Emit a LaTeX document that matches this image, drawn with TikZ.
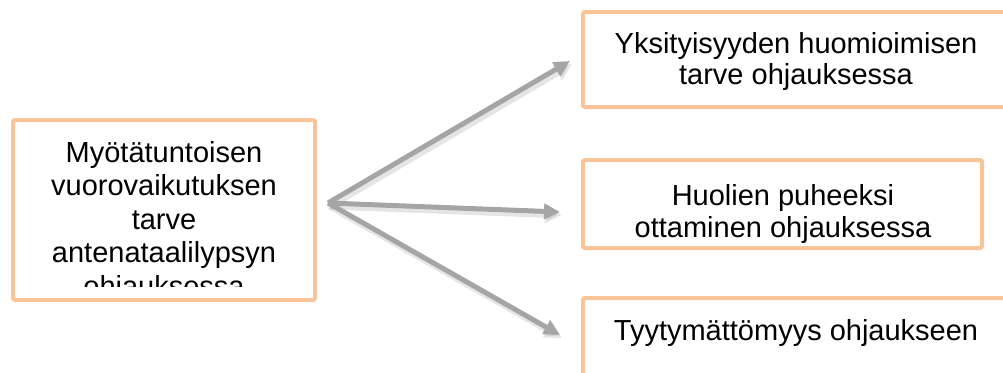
\documentclass[tikz,border=0pt]{standalone}
\usepackage{fontspec}
\setmainfont{Liberation Sans}
\usetikzlibrary{arrows.meta}
\definecolor{boxline}{RGB}{249,196,152}
\definecolor{arrowgray}{RGB}{165,165,165}
\tikzset{
  box/.style={draw=boxline, line width=4pt, rounded corners=2pt, fill=white, inner sep=0pt},
  txt/.style={align=center, inner sep=0pt, font=\fontsize{29}{33}\selectfont},
  conn/.style={draw=arrowgray, line width=5pt, -{Triangle[length=16pt,width=15pt]}},
  connshadow/.style={draw=black, opacity=0.10, line width=7pt, -{Triangle[length=17pt,width=17pt]}}
}
\begin{document}
\begin{tikzpicture}[x=1pt,y=-1pt]
\useasboundingbox (0,0) rectangle (1003,372);
\clip (0,0) rectangle (1003,372);
% boxes
\node[box, minimum width=302pt, minimum height=180pt] (L) at (164,210) {};
\node[box, minimum width=426pt, minimum height=95pt] (T) at (796,59.5) {};
\node[box, minimum width=399pt, minimum height=88pt] (M) at (782.5,204) {};
\node[box, minimum width=426pt, minimum height=90pt] (B) at (796,343) {};
% texts
\begin{scope}
\clip (L.north west) rectangle (315,286);
\node[txt, anchor=north, font=\fontsize{29}{33.5}\selectfont] (Lt) at (164,141)
  {Myötätuntoisen\\vuorovaikutuksen\\tarve\\antenataalilypsyn\\ohjauksessa};
\end{scope}
\node[txt, anchor=north, font=\fontsize{29}{31}\selectfont] (Tt) at (796,32)
  {Yksityisyyden huomioimisen\\tarve ohjauksessa};
\node[txt, anchor=north, font=\fontsize{29}{32}\selectfont] (Mt) at (783,184)
  {Huolien puheeksi\\ottaminen ohjauksessa};
\node[txt, anchor=north] (Bt) at (796,319) {Tyytymättömyys ohjaukseen};
% connectors
\coordinate (s) at (328,203);
\coordinate (et) at (570,61);
\coordinate (em) at (560,212);
\coordinate (eb) at (560,335);
\foreach \e in {et,em,eb}{
  \draw[connshadow] ([shift={(2,3)}]s) -- ([shift={(2,3)}]\e);
}
\draw[conn] (s) -- (et);
\draw[conn] (s) -- (em);
\draw[conn] (s) -- (eb);
\end{tikzpicture}
\end{document}
